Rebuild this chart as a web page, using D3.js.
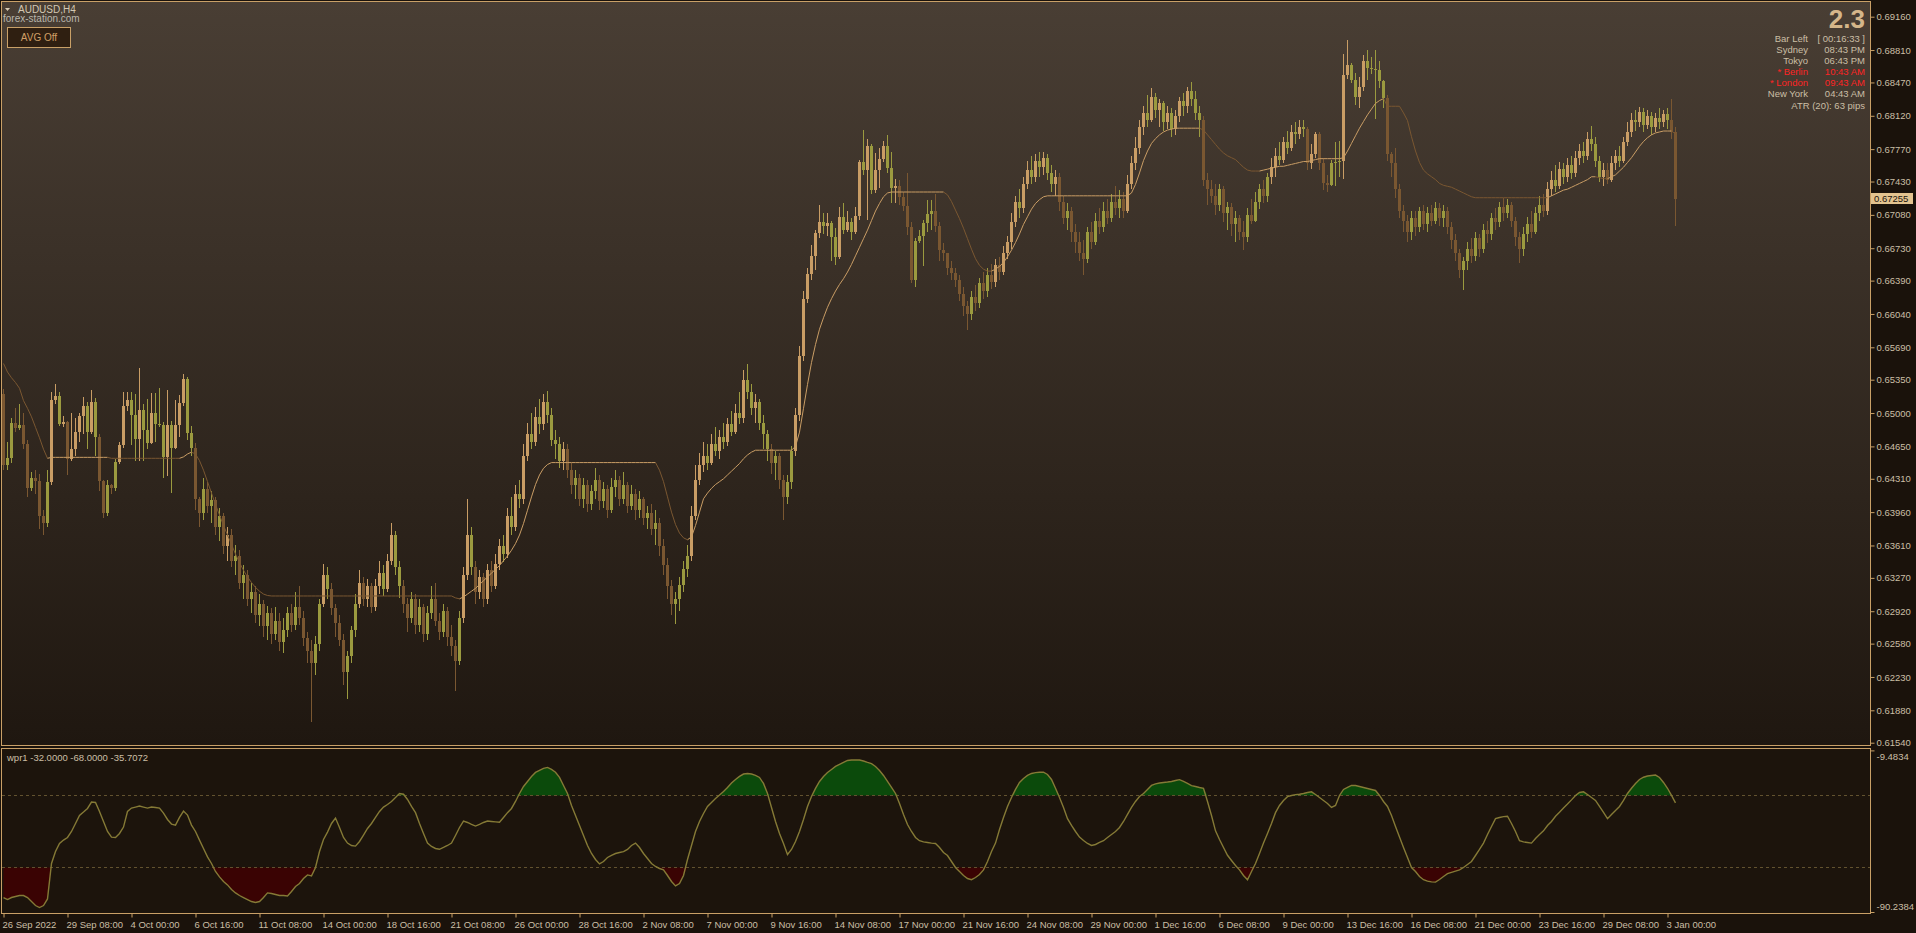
<!DOCTYPE html>
<html><head><meta charset="utf-8">
<script src="https://cdn.jsdelivr.net/npm/d3@7"></script>
<style>
html,body{margin:0;padding:0;background:#1a120b;overflow:hidden;}
svg{display:block;font-family:"Liberation Sans",Arial,sans-serif;}
</style></head><body>
<svg id="c" width="1916" height="933"></svg>
<script>
// ---- DATA (prices in pips above 0.6000) ----
const firstOpen = 520;
const closes = [
445,453,490,484,487,468,421,432,429,392, 385,428,514,518,489,491,452,462,480,497,
507,480,512,475,429,395,424,421,449,466, 507,514,498,473,503,482,469,500,489,487,
454,487,463,487,511,536,479,463,410,395, 420,402,409,380,392,360,372,345,350,322,
330,305,312,288,300,276,290,268,282,260, 272,290,278,296,285,264,250,238,258,300,
330,315,295,280,262,228,245,272,300,322, 305,318,296,318,332,315,345,372,338,318,
300,285,305,278,296,268,290,305,282,270, 292,265,256,240,285,330,372,338,312,328,
305,335,318,342,360,352,392,380,415,410, 455,478,470,496,488,512,498,472,468,450,
462,440,425,432,410,425,405,418,430,408, 420,398,422,430,410,425,402,415,398,410,
390,395,378,385,360,340,318,300,305,320, 336,350,392,430,445,455,448,468,460,475,
470,488,480,500,495,535,522,505,512,490, 478,462,448,455,430,412,428,460,498,560,
620,646,665,689,700,696,699,685,664,706, 692,700,690,707,764,755,780,734,755,767,
780,757,736,738,727,717,695,640,681,686, 699,709,712,696,671,668,652,647,640,625,
612,604,622,616,636,628,645,638,655,648, 668,680,700,722,715,740,755,748,765,758,
768,752,740,748,722,705,712,690,680,668, 662,690,680,702,695,712,705,722,715,725,
712,740,762,778,800,815,808,832,818,825, 805,815,798,812,828,822,838,830,815,808,
745,735,728,718,735,710,716,698,705,690, 685,708,702,722,735,728,748,758,770,766,
785,778,795,793,800,798,762,772,793,762, 741,739,762,764,765,855,865,850,832,842,
869,862,861,860,848,831,772,762,735,712, 702,690,705,695,712,698,710,702,715,705,
712,695,682,668,650,660,672,665,684,672, 692,688,705,700,716,710,718,702,685,672,
688,698,690,710,718,712,735,745,738,756, 748,760,752,768,775,770,788,782,765,748,
755,745,762,770,765,785,795,808,805,816, 802,812,800,810,805,814,808,795,725];
const highs = [
525,470,495,505,510,500,472,438,440,436, 398,440,522,530,522,497,492,500,495,500,
517,512,524,516,478,430,430,426,452,470, 522,522,522,520,547,510,515,521,521,526,
491,524,492,514,519,541,538,486,469,412, 432,428,418,412,400,395,380,378,362,356,
340,335,322,318,310,304,298,295,296,290, 285,296,300,312,318,292,270,262,266,305,
342,338,322,300,288,268,250,276,310,335, 328,326,322,326,345,340,352,385,376,345,
325,306,312,310,305,300,298,318,322,290, 300,296,278,262,292,338,410,380,345,335,
332,342,345,352,368,372,400,412,424,430, 468,490,500,506,515,520,523,505,482,475,
470,468,448,440,436,432,430,425,442,435, 428,425,432,440,434,438,428,425,420,418,
412,402,405,398,390,368,348,325,312,328, 345,362,402,445,458,470,468,478,485,482,
490,495,502,510,522,545,551,530,520,515, 498,482,468,460,458,435,435,465,505,570,
628,652,676,692,718,710,710,702,694,716, 720,712,705,716,766,797,788,782,773,778,
786,792,774,746,745,732,752,700,684,692, 703,724,724,730,700,678,668,660,652,645,
632,618,628,634,642,648,652,656,662,664, 675,686,710,728,735,748,765,770,772,774,
774,772,760,755,752,728,720,716,698,690, 682,695,700,710,715,722,725,730,738,734,
732,750,770,790,808,822,834,841,836,830, 828,822,820,818,832,836,842,847,838,822,
812,752,745,740,740,738,722,720,712,708, 702,715,725,732,740,745,752,768,778,784,
790,796,802,805,808,808,800,782,795,795, 768,750,766,785,786,877,892,867,857,853,
876,881,874,881,869,850,834,774,778,740, 718,708,712,712,716,718,716,718,722,720,
718,716,700,688,672,664,680,684,690,688, 698,702,710,715,722,726,725,722,706,690,
695,706,712,716,728,730,742,754,760,764, 762,768,770,775,782,785,795,801,790,770,
762,762,770,776,780,790,805,815,818,821, 820,818,816,815,820,818,820,830,800];
const lows = [
440,440,448,480,482,462,412,418,415,378, 372,380,424,510,486,485,435,450,455,470,
478,462,478,455,418,390,392,415,418,447, 463,502,466,450,450,450,462,468,470,485,
432,434,416,462,475,507,472,455,398,380, 388,395,385,372,366,352,345,338,330,315,
305,298,290,280,276,265,262,258,262,250, 248,265,270,272,278,255,238,176,225,250,
296,305,288,265,255,215,200,238,265,295, 298,296,290,292,310,308,312,340,330,306,
290,270,280,268,270,260,262,284,276,262, 265,256,245,208,236,280,325,330,300,305,
296,300,312,315,335,344,348,372,376,400, 405,450,462,465,478,482,490,465,452,442,
440,432,415,410,402,400,396,398,410,398, 400,390,395,412,402,405,395,398,388,390,
382,378,372,362,350,330,305,288,279,292, 312,328,345,388,425,438,440,445,455,452,
462,465,476,478,488,490,515,498,490,482, 462,450,436,430,420,388,405,420,455,492,
555,615,640,650,684,688,686,660,655,662, 688,690,682,688,703,750,703,730,731,736,
763,752,720,720,718,712,687,636,632,678, 654,690,692,690,660,660,645,640,632,618,
602,587,598,607,610,620,622,630,632,640, 645,662,672,695,705,710,735,740,742,748,
750,745,732,728,712,698,692,680,668,660, 645,658,672,676,688,690,698,700,708,705,
705,710,735,755,772,792,800,805,810,800, 796,798,790,792,805,812,815,822,808,790,
738,718,720,708,712,700,692,686,680,682, 671,680,698,700,714,720,722,740,748,760,
762,772,775,782,788,790,755,756,768,755, 734,732,738,738,748,746,851,846,823,820,
838,850,856,809,841,820,765,748,726,705, 690,680,682,686,690,692,690,696,698,696,
695,688,672,660,642,629,650,658,660,664, 668,678,682,692,695,702,705,695,675,658,
665,680,684,688,702,706,708,728,732,735, 740,742,746,748,760,762,766,775,758,742,
738,740,742,755,758,762,780,790,796,800, 795,798,792,795,798,800,798,788,696];
const maLine = [
552,543,537,532,526,513,505,496,485,474, 462,452.5,453.5,453.5,453.5,453.5,453.5,453.5,453.5,453.5,
453.5,453.5,453.5,453.5,453.5,453.5,453.5,452.5,452.5,452.5, 452.5,452.5,452.5,452.5,452.5,452.5,452.5,452.5,452.5,452.5,
452.5,452.5,452.5,452.5,452.5,454,457,459,457,450, 440,428,416,404,393,382,372,362,352,343,
335,328,322,317,313,310,308.5,308,308,308, 308,308,308,308,308,308,308,308,308,308,
308,308,308,308,308,308,308,308,308,308, 308,308,308,308,308,308,308,308,308,308,
308,308,308,308,308,308,308,308,308,308, 308,308,308,306,305,307,310,313,316,320,
324,328,332,336,340,345,350,356,363,372, 384,398,412,425,435,442,446,448,448,448,
448,448,448,448,448,448,448,448,448,448, 448,448,448,448,448,448,448,448,448,448,
448,448,448,448,440,428,412,396,383,374, 369,367,370,382,396,410,416,421,425,428,
431,435,439,443,447,452,456,459,461,461, 461,461,461,461,461,461,461,461,465,480,
505,530,553,572,588,600,611,620,628,635, 641,648,656,665,674,683,692,702,712,720,
727,731,732,732,732,732,732,732,732,732, 732,732,732,732,732,732,729,722,713,704,
694,683,672,662,655,651,649,649,651,654, 658,664,671,679,688,698,706,714,720,724,
727,728,728,728,728,728,728,728,728,728, 728,728,728,728,728,728,728,728,728,728,
728,728,731,740,752,765,775,783,788,792, 795,797,798,799,799,799,799,799,799,799,
797,792,787,782,777,773,770,768,766,762, 758,755,754,754,754,755,756,757,758,759,
759,760,761,762,763,764,764,765,766,767, 767,767,767,767,767,768,775,783,791,799,
806,813,819,825,828,830,822,822,822,822, 815,807,790,775,763,755,751,748,745,741,
739,738,737,735,733,731,729,727,726,726, 726,726,726,726,726,726,726,726,726,726,
726,726,726,726,726,726,726,728,730,732, 734,735,737,739,741,743,745,748,748,747,
746,746,748,750,754,758,763,768,774,780, 785,789,792,794,795,796,796,796,793];
const wpr = [
-83,-84,-83,-82.5,-82,-82,-83,-85,-87,-88, -87,-83.7,-66,-60,-56,-54.3,-53,-50,-46,-42,
-40.3,-38.5,-35.3,-35.5,-40,-45,-50,-52.8,-53,-51, -47.8,-40,-38.3,-37.8,-37.3,-37.8,-38.3,-37.8,-38,-38.3,
-40.8,-44,-46.3,-46.8,-43,-39.8,-41.8,-46.8,-50,-54.3, -58.5,-62.7,-66,-70,-72.7,-75,-76.7,-79,-80.7,-82,
-83,-84,-85,-85.5,-85,-83,-80.7,-81,-81.5,-82, -82,-82.2,-80,-77.5,-76,-73.5,-71.7,-72.2,-68,-60,
-54,-50.3,-46,-43.3,-48,-53,-55.8,-57,-57.3,-55, -51.8,-48.5,-46,-43,-40,-37.8,-36.5,-35,-33,-31,
-31.4,-34,-37.5,-40.6,-46,-51,-55.8,-57.5,-58.5,-58.9, -58,-57,-55.8,-52,-48,-44.8,-45.5,-46.5,-47.3,-46.5,
-45.5,-44.8,-45,-45.2,-45.4,-43,-40.6,-38.5,-35,-31, -27.5,-25,-22.5,-20.5,-19.5,-18.5,-18,-19,-20.4,-23,
-27,-31,-37,-42,-47,-52,-57,-61,-64,-66.2, -65,-63,-61.9,-61,-60.5,-60.1,-59,-57,-55.8,-58,
-61,-63.5,-66,-67.5,-68.5,-69.2,-72,-75,-77.2,-76, -72,-64,-57,-50,-45,-41,-37.5,-35.5,-33.5,-31.8,
-30,-28,-25.8,-24,-22.5,-21.3,-21,-21.3,-22,-23, -26,-31,-38,-45,-51,-56,-61.5,-59,-55,-50,
-44,-37.5,-32.5,-28.5,-25,-22.5,-20.5,-19,-17.5,-16.5, -15.5,-14.5,-14.3,-14.2,-14.3,-14.8,-15.5,-16.1,-17.5,-19.5,
-22,-25,-28,-31,-36,-41.5,-46.5,-50,-53,-54.6, -55.2,-55.5,-55.8,-56,-58,-60.5,-62,-65,-68,-70,
-72,-73.5,-74.1,-73,-71.5,-69.2,-65,-60,-55.8,-49, -43,-37.5,-33,-29,-25.5,-23.5,-22,-21,-20.6,-20.4,
-20.4,-21.5,-24,-28.4,-33,-38,-43.6,-47,-50,-52.8, -54.5,-56,-57,-56.5,-55.5,-54.6,-53,-51.5,-50,-48,
-45,-41.5,-38,-35,-32.5,-31,-29,-27,-26.2,-25.8, -25.5,-25.3,-25,-24.5,-24.1,-25,-26,-27.1,-27.5,-28,
-28.4,-35,-42,-49.7,-54,-58,-61.9,-64.5,-67,-69.2, -72,-74.1,-70,-66,-61,-55.8,-51,-46,-40.6,-37,
-34.5,-32.6,-32,-31.6,-31.4,-31,-30.5,-30.2,-31.5,-33, -34.5,-36,-38,-37,-32,-29,-28,-27,-27,-27.5,
-28,-28.5,-29,-29.5,-32,-35,-37.5,-42,-47.5,-52.8, -58,-63,-68,-70,-72.5,-74.1,-74.8,-75.2,-75.3,-74,
-72.5,-71.1,-70.4,-69.8,-69.2,-68,-66.5,-65,-62,-59, -55.8,-51.5,-47.5,-43.6,-43,-42.6,-42.4,-46,-50,-54.6,
-55.2,-55.5,-55.8,-53.5,-51.5,-49.7,-47,-45,-42.4,-40.4, -38.3,-36.3,-34.2,-32,-30.5,-30.2,-31.5,-33,-34.5,-37.5,
-40.5,-43.6,-41.5,-39.5,-37.5,-34.5,-31,-28.4,-26,-24, -22.9,-22.3,-22,-21.8,-23,-25.5,-28.4,-32,-35.7072];
const timeLabels = ["26 Sep 2022","29 Sep 08:00","4 Oct 00:00","6 Oct 16:00","11 Oct 08:00","14 Oct 00:00",
"18 Oct 16:00","21 Oct 08:00","26 Oct 00:00","28 Oct 16:00","2 Nov 08:00","7 Nov 00:00","9 Nov 16:00",
"14 Nov 08:00","17 Nov 00:00","21 Nov 16:00","24 Nov 08:00","29 Nov 00:00","1 Dec 16:00","6 Dec 08:00",
"9 Dec 00:00","13 Dec 16:00","16 Dec 08:00","21 Dec 00:00","23 Dec 16:00","29 Dec 08:00","3 Jan 00:00"];
const barsPerLabel = 16;
const priceTicks = [0.69160,0.68810,0.68470,0.68120,0.67770,0.67430,0.67080,0.66730,0.66390,0.66040,0.65690,
0.65350,0.65000,0.64650,0.64310,0.63960,0.63610,0.63270,0.62920,0.62580,0.62230,0.61880,0.61540];
const wprLevels = [-32, -68];
const wprRange = [-90.2384, -9.4834];
const lastPrice = 0.67255;
const symbolTitle = "AUDUSD,H4";
const brand = "forex-station.com";
const bigValue = "2.3";
const infoLabels = ["Bar Left","Sydney","Tokyo","* Berlin","* London","New York"];
const infoValues = ["[ 00:16:33 ]","08:43 PM","06:43 PM","10:43 AM","09:43 AM","04:43 AM"];
const atrText = "ATR (20): 63 pips";
const wprTitle = "wpr1 -32.0000 -68.0000 -35.7072";

// ---- LAYOUT ----
const C = {tan:"#c99d65", olive:"#9b9a3f", dark:"#7a5731", frame:"#c9a067", text:"#cbbfa6",
  red:"#ff2424", wline:"#857a36", green:"#0b4a0b", wred:"#3a0303", level:"#62522f"};
const M = {x0:1, x1:1870, y0:1, y1:745};
const S = {y0:748, y1:913};
const N = closes.length;
const svg = d3.select("#c");
const toP = v => 0.6 + v/10000;
const x = d3.scaleLinear().domain([0, N-1]).range([3, 3 + 4*(N-1)]);
const y = d3.scaleLinear().domain([0.6154, 0.6916]).range([742.7, 16.7]);
const yw = d3.scaleLinear().domain(wprRange).range([S.y1 - 1, 750.4]);

const defs = svg.append("defs");
const g = defs.append("linearGradient").attr("id","bg").attr("x1",0).attr("y1",0).attr("x2",0).attr("y2",1);
g.append("stop").attr("offset","0%").attr("stop-color","#493e34");
g.append("stop").attr("offset","100%").attr("stop-color","#1f1710");
defs.append("clipPath").attr("id","cm").append("rect").attr("x",M.x0+1).attr("y",M.y0+1).attr("width",M.x1-M.x0-1).attr("height",M.y1-M.y0-1);
defs.append("clipPath").attr("id","cs").append("rect").attr("x",M.x0+1).attr("y",S.y0+1).attr("width",M.x1-M.x0-1).attr("height",S.y1-S.y0-1);

// panels
svg.append("rect").attr("x",M.x0+0.5).attr("y",M.y0+0.5).attr("width",M.x1-M.x0).attr("height",M.y1-M.y0)
  .attr("fill","url(#bg)").attr("stroke",C.frame);
svg.append("rect").attr("x",M.x0+0.5).attr("y",S.y0+0.5).attr("width",M.x1-M.x0).attr("height",S.y1-S.y0)
  .attr("fill","#1c140c").attr("stroke",C.frame);

// candles
const opens = closes.map((c,i) => i === 0 ? firstOpen : closes[i-1]);
const bars = d3.range(N).map(i => ({i, o:opens[i], c:closes[i],
  h:Math.max(highs[i], opens[i], closes[i]), l:Math.min(lows[i], opens[i], closes[i]), m:maLine[i]}));
function colorOf(d){
  const bull = d.c >= d.o, above = d.c >= d.m;
  if (bull && above) return C.tan;
  if (!bull && !above) return C.dark;
  return C.olive;
}
const cg = svg.append("g").attr("clip-path","url(#cm)").attr("shape-rendering","crispEdges");
cg.selectAll("rect.w").data(bars).join("rect").attr("class","w")
  .attr("x", d => Math.round(x(d.i))).attr("width",1)
  .attr("y", d => Math.round(y(toP(d.h))))
  .attr("height", d => Math.max(1, Math.round(y(toP(d.l))) - Math.round(y(toP(d.h)))))
  .attr("fill", colorOf);
cg.selectAll("rect.b").data(bars).join("rect").attr("class","b")
  .attr("x", d => Math.round(x(d.i)) - 1).attr("width",3)
  .attr("y", d => Math.round(y(toP(Math.max(d.o,d.c)))))
  .attr("height", d => Math.max(1, Math.round(y(toP(Math.min(d.o,d.c)))) - Math.round(y(toP(Math.max(d.o,d.c))))))
  .attr("fill", colorOf);

// MA line, coloured by slope
const mg = svg.append("g").attr("clip-path","url(#cm)");
let prevCol = C.dark;
const segs = [];
for (let i = 1; i < N; i++){
  if (maLine[i] > maLine[i-1]) prevCol = C.tan; else if (maLine[i] < maLine[i-1]) prevCol = C.dark;
  segs.push({a:i-1, b:i, col:prevCol});
}
mg.selectAll("line").data(segs).join("line")
  .attr("x1", d => x(d.a)+0.5).attr("x2", d => x(d.b)+0.5)
  .attr("y1", d => y(toP(maLine[d.a]))).attr("y2", d => y(toP(maLine[d.b])))
  .attr("stroke", d => d.col).attr("stroke-width",1);

// WPR panel
const sg = svg.append("g").attr("clip-path","url(#cs)");
const hi = wprLevels[0], lo = wprLevels[1];
sg.append("path").datum(wpr).attr("fill",C.green)
  .attr("d", d3.area().x((d,i)=>x(i)+0.5).y0(yw(hi)).y1(d=>yw(Math.max(d,hi))));
sg.append("path").datum(wpr).attr("fill",C.wred)
  .attr("d", d3.area().x((d,i)=>x(i)+0.5).y0(yw(lo)).y1(d=>yw(Math.min(d,lo))));
sg.selectAll("line.lv").data(wprLevels).join("line").attr("class","lv")
  .attr("x1",M.x0+1).attr("x2",M.x1).attr("y1",d=>Math.round(yw(d))+0.5).attr("y2",d=>Math.round(yw(d))+0.5)
  .attr("stroke",C.level).attr("stroke-dasharray","3,3");
sg.append("path").datum(wpr).attr("fill","none").attr("stroke",C.wline).attr("stroke-width",1.4)
  .attr("d", d3.line().x((d,i)=>x(i)+0.5).y(d=>yw(d)));

// price axis
const pa = svg.append("g").attr("transform",`translate(${M.x1+0.5},0)`)
  .call(d3.axisRight(y).tickValues(priceTicks).tickSize(4).tickPadding(2).tickFormat(d=>d.toFixed(5)));
pa.select(".domain").remove();
pa.selectAll("line").attr("stroke",C.frame);
pa.selectAll("text").attr("fill",C.text).attr("font-size","9.5px").attr("font-family","Liberation Sans, Arial");

// current price tag
const py = Math.round(y(lastPrice));
svg.append("rect").attr("x",M.x1+1).attr("y",py-5).attr("width",42).attr("height",11).attr("fill","#e3c38f");
svg.append("text").attr("x",M.x1+4).attr("y",py+4).attr("font-size","9.5px").attr("fill","#1a120b").text(lastPrice.toFixed(5));

// wpr axis
const wa = svg.append("g").attr("transform",`translate(${M.x1+0.5},0)`)
  .call(d3.axisRight(yw).tickValues(wprRange).tickSize(4).tickPadding(2).tickFormat(d=>d.toFixed(4)));
wa.select(".domain").remove();
wa.selectAll("line").attr("stroke",C.frame);
wa.selectAll("text").attr("fill",C.text).attr("font-size","9.5px")
  .attr("dy", d => d === wprRange[1] ? "1.0em" : "-0.3em");

// time axis
const tIdx = timeLabels.map((t,k) => k*barsPerLabel);
const ta = svg.append("g").attr("transform",`translate(0,${S.y1+0.5})`)
  .call(d3.axisBottom(x).tickValues(tIdx).tickSize(4).tickPadding(4).tickFormat((d,k)=>timeLabels[k]));
ta.select(".domain").remove();
ta.selectAll("line").attr("stroke",C.frame).attr("transform","translate(0.5,0)");
ta.selectAll("text").attr("fill",C.text).attr("font-size","9.5px").attr("text-anchor","start").attr("dx","-1");

// top-left labels
svg.append("path").attr("d","M5,8 L10,8 L7.5,11 Z").attr("fill","#d8cbb5");
svg.append("text").attr("x",18).attr("y",13).attr("font-size","10px").attr("fill","#d3c7b2").text(symbolTitle);
svg.append("text").attr("x",3).attr("y",22).attr("font-size","10px").attr("fill","#b9b6ac").text(brand);
svg.append("rect").attr("x",7.5).attr("y",27.5).attr("width",63).attr("height",20).attr("fill","#2f1f11").attr("stroke",C.frame);
svg.append("text").attr("x",39).attr("y",41).attr("text-anchor","middle").attr("font-size","10px").attr("fill","#cf9f66").text("AVG Off");

// top-right info
svg.append("text").attr("x",1865).attr("y",28).attr("text-anchor","end").attr("font-size","26px")
  .attr("font-weight","bold").attr("fill","#d5b68a").text(bigValue);
const info = infoLabels.map((l,k)=>({l, v:infoValues[k], k}));
svg.selectAll("text.il").data(info).join("text").attr("class","il")
  .attr("x",1808).attr("y",d=>42+d.k*11).attr("text-anchor","end").attr("font-size","9.5px")
  .attr("fill",d=>d.l.startsWith("*")?C.red:C.text).text(d=>d.l);
svg.selectAll("text.iv").data(info).join("text").attr("class","iv")
  .attr("x",1865).attr("y",d=>42+d.k*11).attr("text-anchor","end").attr("font-size","9.5px")
  .attr("fill",d=>d.l.startsWith("*")?C.red:C.text).text(d=>d.v);
svg.append("text").attr("x",1865).attr("y",42+6*11+1).attr("text-anchor","end").attr("font-size","9.5px")
  .attr("fill",C.text).text(atrText);

// wpr title
svg.append("text").attr("x",7).attr("y",761).attr("font-size","9.5px").attr("fill",C.text).text(wprTitle);
</script></body></html>
